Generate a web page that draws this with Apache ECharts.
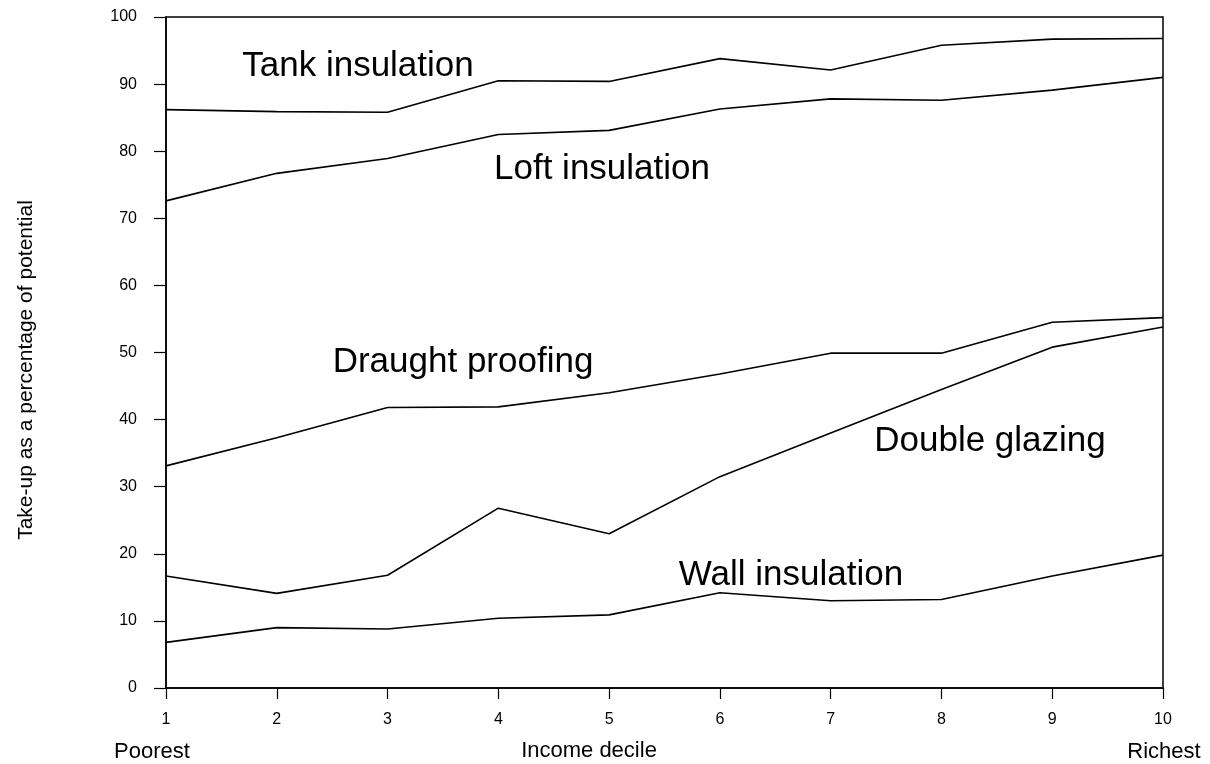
<!DOCTYPE html>
<html>
<head>
<meta charset="utf-8">
<script src="https://cdn.jsdelivr.net/npm/echarts@6/dist/echarts.min.js"></script>
<style>
  html, body { margin: 0; padding: 0; background: #fff; }
  #chart { width: 1210px; height: 764px; }
</style>
</head>
<body>
<div id="chart"></div>
<script>
var deciles = ['1', '2', '3', '4', '5', '6', '7', '8', '9', '10'];

var tank = [86.2, 85.9, 85.8, 90.5, 90.4, 93.8, 92.1, 95.8, 96.7, 96.8];
var loft = [72.6, 76.7, 78.9, 82.5, 83.1, 86.3, 87.8, 87.6, 89.1, 91.0];
var draught = [33.1, 37.3, 41.8, 41.9, 44.0, 46.8, 49.9, 49.9, 54.5, 55.2];
var doubleGlazing = [16.7, 14.1, 16.8, 26.8, 23.0, 31.5, 38.0, 44.5, 50.8, 53.8];
var wall = [6.8, 9.0, 8.8, 10.4, 10.9, 14.2, 13.0, 13.2, 16.7, 19.8];

var seriesNames = ['Tank insulation', 'Loft insulation', 'Draught proofing', 'Double glazing', 'Wall insulation'];
var seriesData = [tank, loft, draught, doubleGlazing, wall];

var FONT = '"Liberation Sans", Arial, Helvetica, sans-serif';

var chartDom = document.getElementById('chart');
var myChart = echarts.init(chartDom);
var option;

// where each line's name is written inside the plot
var labelPos = [
    [358, 66],
    [602, 169],
    [463, 362],
    [990, 441],
    [791, 575]
];

function txt(s, x, y, size, extra) {
    var el = {
        type: 'text',
        x: x,
        y: y,
        style: { text: s, fontFamily: FONT, fontSize: size, fill: '#000', align: 'center', verticalAlign: 'middle' }
    };
    if (extra) Object.assign(el, extra);
    return el;
}

option = {
    backgroundColor: '#fff',
    animation: false,
    grid: {
        left: 166,
        right: 47,
        top: 17,
        bottom: 76,
        show: true,
        borderColor: '#000',
        borderWidth: 1.5
    },
    xAxis: {
        type: 'category',
        data: deciles,
        boundaryGap: false,
        axisLine: { lineStyle: { color: '#000', width: 1.5 } },
        axisTick: { alignWithLabel: true, length: 11, lineStyle: { color: '#000', width: 1.2 } },
        axisLabel: { color: '#000', fontFamily: FONT, fontSize: 16, margin: 24 },
        splitLine: { show: false }
    },
    yAxis: {
        type: 'value',
        min: 0,
        max: 100,
        interval: 10,
        axisLine: { show: true, lineStyle: { color: '#000', width: 1.5 } },
        axisTick: { show: true, length: 12, lineStyle: { color: '#000', width: 1.2 } },
        axisLabel: { color: '#000', fontFamily: FONT, fontSize: 16, margin: 29 },
        splitLine: { show: false }
    },
    graphic: [
        txt('Take-up as a percentage of potential', 26, 370, 21, { rotation: Math.PI / 2 }),
        txt('Income decile', 589, 751, 22),
        txt('Poorest', 152, 752, 22),
        txt('Richest', 1164, 752, 22)
    ],
    series: []
};

seriesNames.forEach(function (name, i) {
    option.series.push({
        name: name,
        type: 'line',
        data: seriesData[i],
        symbol: 'none',
        lineStyle: { color: '#000', width: 1.6 }
    });
    option.graphic.push(txt(name, labelPos[i][0], labelPos[i][1], 35));
});

option && myChart.setOption(option);
</script>
</body>
</html>
